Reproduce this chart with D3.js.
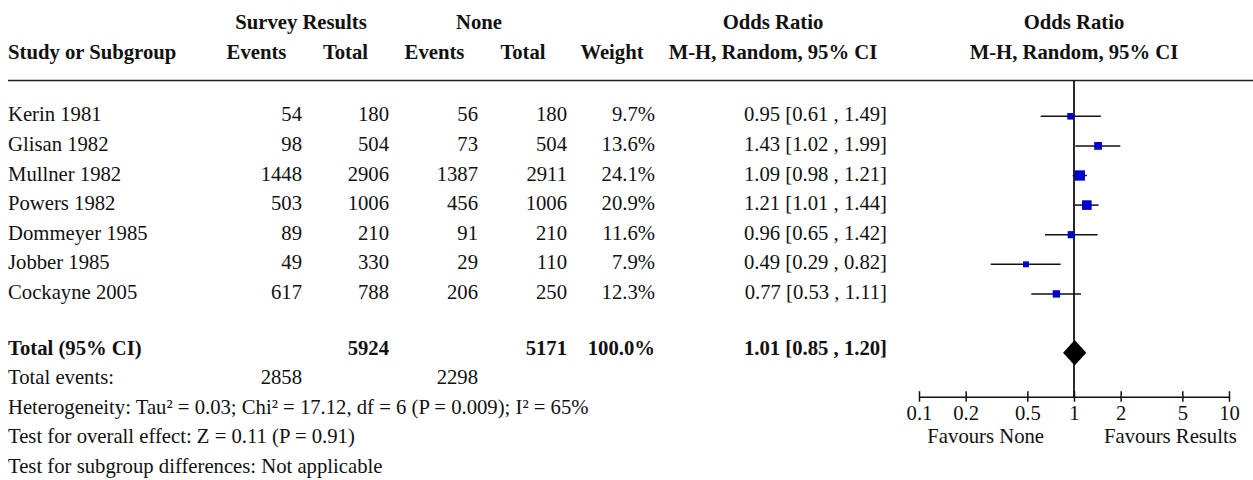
<!DOCTYPE html>
<html><head><meta charset="utf-8">
<script src="https://cdn.jsdelivr.net/npm/d3@7"></script>
<style>
html,body{margin:0;padding:0;background:#fff;}
svg{display:block;font-family:"Liberation Serif","Times New Roman",serif;font-size:20.7px;fill:#111;}
.b{font-weight:bold;}
</style></head>
<body>
<svg id="c" width="1253" height="480"></svg>
<script>
// ---- data ----
const studies = ["Kerin 1981","Glisan 1982","Mullner 1982","Powers 1982","Dommeyer 1985","Jobber 1985","Cockayne 2005"];
const eventsResults = [54, 98, 1448, 503, 89, 49, 617];
const totalResults = [180, 504, 2906, 1006, 210, 330, 788];
const eventsNone = [56, 73, 1387, 456, 91, 29, 206];
const totalNone = [180, 504, 2911, 1006, 210, 110, 250];
const weights = [9.7, 13.6, 24.1, 20.9, 11.6, 7.9, 12.3];
const orEst = [0.95, 1.43, 1.09, 1.21, 0.96, 0.49, 0.77];
const orLow = [0.61, 1.02, 0.98, 1.01, 0.65, 0.29, 0.53];
const orHigh = [1.49, 1.99, 1.21, 1.44, 1.42, 0.82, 1.11];
const pooled = {est: 1.01, low: 0.85, high: 1.20};
const totals = {results: 5924, none: 5171, weight: "100.0%", eventsResults: 2858, eventsNone: 2298};
const axisTicks = [0.1, 0.2, 0.5, 1, 2, 5, 10];
const footLines = [
  "Heterogeneity: Tau\u00B2 = 0.03; Chi\u00B2 = 17.12, df = 6 (P = 0.009); I\u00B2 = 65%",
  "Test for overall effect: Z = 0.11 (P = 0.91)",
  "Test for subgroup differences: Not applicable"
];

// ---- layout ----
const svg = d3.select("#c");
const x = d3.scaleLog().domain([0.1, 10]).range([919, 1229]);
const markY = d3.scaleLinear().domain([0, 1]).range([116.3, 145.9]);   // study marks centre
const studyY = d3.scaleLinear().domain([0, 1]).range([121.3, 150.9]);  // study text baseline
const rowY = d3.scaleLinear().domain([0, 1]).range([118.7, 148.2]);    // summary/footer baselines
const sq = d3.scaleSqrt().domain([0, 25]).range([0, 10.5]);
const axisY = 396.7;
const fmt2 = d3.format(".2f");

function txt(xp, yp, s, anchor, bold) {
  return svg.append("text").attr("x", xp).attr("y", yp).attr("text-anchor", anchor || "start")
    .attr("class", bold ? "b" : null).text(s);
}

// headers
txt(301, 29.3, "Survey Results", "middle", true);
txt(479, 29.3, "None", "middle", true);
txt(773, 29.3, "Odds Ratio", "middle", true);
txt(1074, 29.3, "Odds Ratio", "middle", true);
txt(8, 59.3, "Study or Subgroup", "start", true);
txt(256.5, 59.3, "Events", "middle", true);
txt(345.5, 59.3, "Total", "middle", true);
txt(434.5, 59.3, "Events", "middle", true);
txt(523, 59.3, "Total", "middle", true);
txt(612, 59.3, "Weight", "middle", true);
txt(773, 59.3, "M-H, Random, 95% CI", "middle", true);
txt(1074, 59.3, "M-H, Random, 95% CI", "middle", true);

svg.append("line").attr("x1", 8).attr("x2", 1253).attr("y1", 80.5).attr("y2", 80.5)
  .attr("stroke", "#222").attr("stroke-width", 1.6);

// study rows
studies.forEach((s, i) => {
  const y = studyY(i);
  txt(8, y, s);
  txt(302, y, eventsResults[i], "end");
  txt(389, y, totalResults[i], "end");
  txt(478, y, eventsNone[i], "end");
  txt(567, y, totalNone[i], "end");
  txt(655, y, weights[i].toFixed(1) + "%", "end");
  txt(887, y, `${fmt2(orEst[i])} [${fmt2(orLow[i])} , ${fmt2(orHigh[i])}]`, "end");
});

// totals
const yT = rowY(8);
txt(8, yT, "Total (95% CI)", "start", true);
txt(389, yT, totals.results, "end", true);
txt(567, yT, totals.none, "end", true);
txt(655, yT, totals.weight, "end", true);
txt(887, yT, `${fmt2(pooled.est)} [${fmt2(pooled.low)} , ${fmt2(pooled.high)}]`, "end", true);
const yE = rowY(9);
txt(8, yE, "Total events:");
txt(302, yE, totals.eventsResults, "end");
txt(478, yE, totals.eventsNone, "end");
footLines.forEach((l, k) => txt(8, rowY(10 + k), l));

// forest plot
const plot = svg.append("g");
plot.append("line").attr("x1", x(1)).attr("x2", x(1)).attr("y1", 80.5).attr("y2", axisY)
  .attr("stroke", "#111").attr("stroke-width", 1.8);

const rows = plot.selectAll("g.study").data(studies.map((s, i) => i)).join("g").attr("class", "study");
rows.append("line")
  .attr("x1", i => x(orLow[i])).attr("x2", i => x(orHigh[i]))
  .attr("y1", i => markY(i)).attr("y2", i => markY(i))
  .attr("stroke", "#111").attr("stroke-width", 1.5);
rows.append("rect")
  .attr("x", i => x(orEst[i]) - sq(weights[i]) / 2)
  .attr("y", i => markY(i) - sq(weights[i]) / 2)
  .attr("width", i => sq(weights[i])).attr("height", i => sq(weights[i]))
  .attr("fill", "#0000cc");

const dy = 352.8;
plot.append("path")
  .attr("d", `M${x(pooled.low)},${dy} L${x(pooled.est)},${dy - 12.8} L${x(pooled.high)},${dy} L${x(pooled.est)},${dy + 12.8} Z`)
  .attr("fill", "#000");

// axis
const ax = svg.append("g").attr("transform", `translate(0,${axisY})`)
  .call(d3.axisBottom(x).tickValues(axisTicks).tickFormat(d3.format("")).tickSize(5.5).tickSizeOuter(0));
ax.select(".domain").attr("stroke", "#111").attr("stroke-width", 1.5);
ax.selectAll(".tick line").attr("y1", -5.5).attr("y2", 5).attr("stroke", "#111").attr("stroke-width", 1.5);
ax.selectAll(".tick text").attr("y", 23.3).attr("dy", 0)
  .attr("font-family", "Liberation Serif, Times New Roman, serif").attr("font-size", 20.7).attr("fill", "#111");

txt(x(1) - 30, 442.5, "Favours None", "end");
txt(x(1) + 30, 442.5, "Favours Results", "start");
</script>
</body></html>
